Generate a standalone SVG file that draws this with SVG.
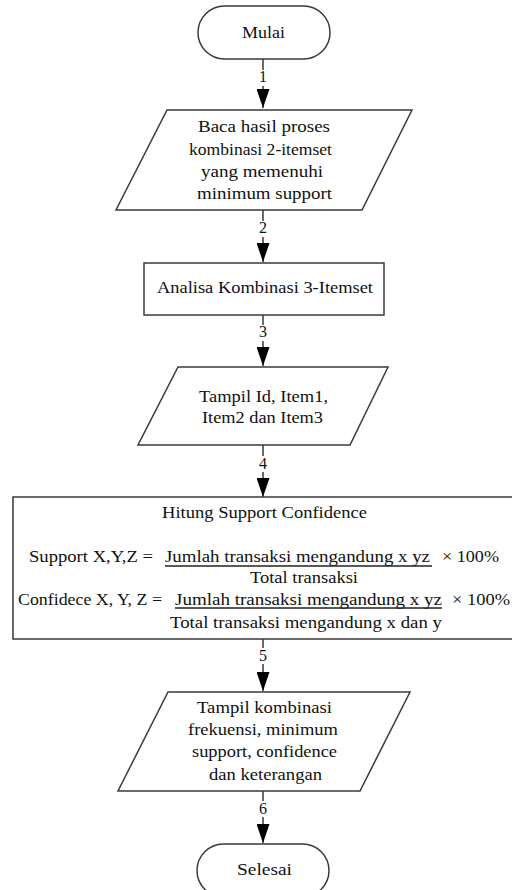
<svg xmlns="http://www.w3.org/2000/svg" width="512" height="890" viewBox="0 0 512 890">
  <style>
    .shape { fill: #ffffff; stroke: #3a3a3a; stroke-width: 1.5; }
    .txt { font-family: "Liberation Serif", "Times New Roman", serif; font-size: 17.5px; fill: #111111; }
    .lbl { font-family: "Liberation Serif", "Times New Roman", serif; font-size: 16px; fill: #111111; text-anchor: middle; }
    .conn { fill: none; stroke: #3a3a3a; stroke-width: 1.5; }
    .uline { stroke: #222222; stroke-width: 1.4; }
  </style>
  <defs>
    <marker id="arrow" viewBox="0 0 19 13" refX="19" refY="6.5" markerWidth="19" markerHeight="13" markerUnits="userSpaceOnUse" orient="auto">
      <path d="M0,0 L19,6.5 L0,13 z" fill="#000000"/>
    </marker>
  </defs>
  <rect width="512" height="890" fill="#ffffff"/>

  <!-- connectors with step numbers -->
  <g id="connectors">
    <path class="conn" d="M263,59 V70 M263,86 V108" marker-end="url(#arrow)"/>
    <text class="lbl" x="263" y="82">1</text>
    <path class="conn" d="M263,210 V221 M263,237 V262" marker-end="url(#arrow)"/>
    <text class="lbl" x="263" y="233">2</text>
    <path class="conn" d="M263,315 V325 M263,341 V366" marker-end="url(#arrow)"/>
    <text class="lbl" x="263" y="337">3</text>
    <path class="conn" d="M263,445 V456 M263,472 V497" marker-end="url(#arrow)"/>
    <text class="lbl" x="263" y="469">4</text>
    <path class="conn" d="M263,639 V648 M263,664 V691" marker-end="url(#arrow)"/>
    <text class="lbl" x="263" y="661">5</text>
    <path class="conn" d="M263,791 V801 M263,817 V843" marker-end="url(#arrow)"/>
    <text class="lbl" x="263" y="814">6</text>
  </g>

  <!-- start terminal -->
  <g id="mulai">
    <rect class="shape" x="198" y="6" width="132" height="53" rx="26.5" ry="26.5"/>
    <text class="txt" x="242" y="38" textLength="43" lengthAdjust="spacingAndGlyphs">Mulai</text>
  </g>

  <!-- input: read 2-itemset results -->
  <g id="baca-hasil">
    <polygon class="shape" points="167,110 412,110 362,210 116,210"/>
    <text class="txt" x="198" y="132" textLength="132" lengthAdjust="spacingAndGlyphs">Baca hasil proses</text>
    <text class="txt" x="189" y="155" textLength="143" lengthAdjust="spacingAndGlyphs">kombinasi 2-itemset</text>
    <text class="txt" x="201" y="177" textLength="122" lengthAdjust="spacingAndGlyphs">yang memenuhi</text>
    <text class="txt" x="197" y="199" textLength="135" lengthAdjust="spacingAndGlyphs">minimum support</text>
  </g>

  <!-- process: 3-itemset analysis -->
  <g id="analisa">
    <rect class="shape" x="144" y="263" width="240" height="52"/>
    <text class="txt" x="157" y="293" textLength="216" lengthAdjust="spacingAndGlyphs">Analisa Kombinasi 3-Itemset</text>
  </g>

  <!-- output: items -->
  <g id="tampil-item">
    <polygon class="shape" points="178,367 388,367 350,445 138,445"/>
    <text class="txt" x="199" y="402" textLength="129" lengthAdjust="spacingAndGlyphs">Tampil Id, Item1,</text>
    <text class="txt" x="202" y="423" textLength="121" lengthAdjust="spacingAndGlyphs">Item2 dan Item3</text>
  </g>

  <!-- process: support / confidence formulas -->
  <g id="hitung">
    <rect class="shape" x="13" y="497" width="510" height="142"/>
    <text class="txt" x="162" y="518" textLength="205" lengthAdjust="spacingAndGlyphs">Hitung Support Confidence</text>
    <text class="txt" x="29" y="562" textLength="124" lengthAdjust="spacingAndGlyphs">Support X,Y,Z =</text>
    <text class="txt" x="165" y="562" textLength="265" lengthAdjust="spacingAndGlyphs">Jumlah transaksi mengandung x yz</text>
    <line class="uline" x1="165" y1="566" x2="432" y2="566"/>
    <text class="txt" x="442" y="562" textLength="57" lengthAdjust="spacingAndGlyphs">× 100%</text>
    <text class="txt" x="250" y="583" textLength="108" lengthAdjust="spacingAndGlyphs">Total transaksi</text>
    <text class="txt" x="18" y="605" textLength="144" lengthAdjust="spacingAndGlyphs">Confidece X, Y, Z =</text>
    <text class="txt" x="175" y="605" textLength="267" lengthAdjust="spacingAndGlyphs">Jumlah transaksi mengandung x yz</text>
    <line class="uline" x1="175" y1="608" x2="442" y2="608"/>
    <text class="txt" x="452" y="605" textLength="58" lengthAdjust="spacingAndGlyphs">× 100%</text>
    <text class="txt" x="170" y="628" textLength="272" lengthAdjust="spacingAndGlyphs">Total transaksi mengandung x dan y</text>
  </g>

  <!-- output: combinations -->
  <g id="tampil-kombinasi">
    <polygon class="shape" points="168,692 410,692 360,791 118,791"/>
    <text class="txt" x="197" y="713" textLength="135" lengthAdjust="spacingAndGlyphs">Tampil kombinasi</text>
    <text class="txt" x="188" y="735" textLength="150" lengthAdjust="spacingAndGlyphs">frekuensi, minimum</text>
    <text class="txt" x="192" y="757" textLength="145" lengthAdjust="spacingAndGlyphs">support, confidence</text>
    <text class="txt" x="209" y="780" textLength="113" lengthAdjust="spacingAndGlyphs">dan keterangan</text>
  </g>

  <!-- end terminal -->
  <g id="selesai">
    <rect class="shape" x="197" y="844" width="132" height="53" rx="26.5" ry="26.5"/>
    <text class="txt" x="237" y="875" textLength="55" lengthAdjust="spacingAndGlyphs">Selesai</text>
  </g>
</svg>
